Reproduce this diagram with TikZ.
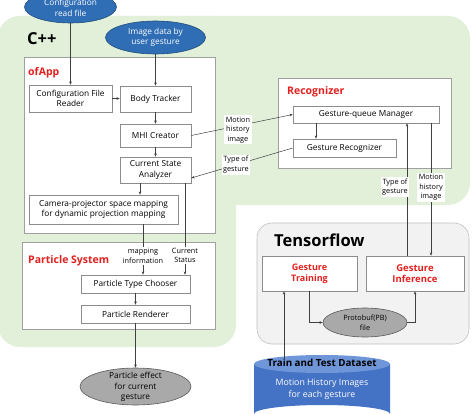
\documentclass[tikz,border=0pt]{standalone}
\usepackage{fontspec}
\setmainfont{Open Sans}
\usetikzlibrary{arrows.meta,shapes.geometric,calc}
\definecolor{bggreen}{HTML}{E2F0D9}
\definecolor{boxgray}{HTML}{8C8C8C}
\definecolor{grpgray}{HTML}{A0A0A0}
\definecolor{titlered}{HTML}{E3201E}
\definecolor{ellblue}{HTML}{2F6DB5}
\definecolor{ellblueedge}{HTML}{1F4E79}
\definecolor{ellgray}{HTML}{A9A9A9}
\definecolor{ellgrayedge}{HTML}{5A5A5A}
\definecolor{tffill}{HTML}{F2F2F2}
\definecolor{tfedge}{HTML}{BFBFBF}
\definecolor{cylblue}{HTML}{4472C4}
\definecolor{cyltop}{HTML}{6F96D8}
\definecolor{linegray}{HTML}{404040}
\begin{document}
\begin{tikzpicture}[x=1pt,y=-1pt,
  box/.style={draw=boxgray, fill=white, line width=0.6pt, inner sep=1pt, align=center,
    font=\fontsize{8.3}{10.5}\selectfont},
  group/.style={draw=grpgray, fill=white, line width=0.7pt, inner sep=0pt},
  redtitle/.style={text=titlered, font=\fontsize{10.5}{12}\selectfont\bfseries, inner sep=0pt},
  bigtitle/.style={text=black, font=\fontsize{16.5}{19}\selectfont\bfseries, inner sep=0pt},
  blueell/.style={ellipse, draw=ellblueedge, fill=ellblue, line width=0.6pt, inner sep=0pt},
  grayell/.style={ellipse, draw=ellgrayedge, fill=ellgray, line width=0.6pt, inner sep=0pt},
  elltext/.style={align=center, inner sep=0pt, font=\fontsize{8.3}{10.5}\selectfont},
  lbl/.style={fill=white, inner sep=1.5pt, align=center, text=black,
    font=\fontsize{7.3}{9.5}\selectfont},
  arr/.style={draw=linegray, line width=0.5pt, -{Stealth[length=3.2pt,width=2.6pt]}},
]
\useasboundingbox (0,0) rectangle (473,414);
\clip (0,0) rectangle (473,414);
% green background (C++)
\fill[bggreen, rounded corners=22pt] (-2,16) rectangle (470,205);
\fill[bggreen, rounded corners=22pt] (-2,16) rectangle (236,347);
% Tensorflow area
\node[draw=tfedge, fill=tffill, line width=0.6pt, rounded corners=15pt,
  minimum width=212pt, minimum height=121pt, inner sep=0pt] (tf) at (363,283.5) {};
\node[bigtitle, anchor=west] (tftitle) at (274,240) {Tensorflow};
% C++ title
\node[bigtitle, anchor=west] (cpp) at (27,39) {C++};
% group boxes
\node[group, minimum width=191pt, minimum height=176pt] (ofapp) at (119.5,145) {};
\node[redtitle, anchor=west] (ofapptitle) at (28,73) {ofApp};
\node[group, minimum width=193pt, minimum height=87pt] (ps) at (118.5,285.5) {};
\node[redtitle, anchor=west] (pstitle) at (28,261) {Particle System};
\node[group, minimum width=173pt, minimum height=90pt] (rec) at (364.5,123) {};
\node[redtitle, anchor=west] (rectitle) at (287,92) {Recognizer};
% ofApp boxes
\node[box, minimum width=83pt, minimum height=27pt] (cfr) at (70.5,98.5) {Configuration File\\Reader};
\node[box, minimum width=71pt, minimum height=26pt] (bt) at (155.5,99) {Body Tracker};
\node[box, minimum width=71pt, minimum height=23pt] (mhi) at (155.5,135.5) {MHI Creator};
\node[box, minimum width=71pt, minimum height=26pt] (csa) at (155.5,170) {Current State\\Analyzer};
\node[box, minimum width=149pt, minimum height=29pt] (cam) at (103.5,209.5) {Camera-projector space mapping\\for dynamic projection mapping};
% Particle system boxes
\node[box, minimum width=109pt, minimum height=18pt] (ptc) at (135.5,284) {Particle Type Chooser};
\node[box, minimum width=109pt, minimum height=18pt] (pr) at (135.5,314) {Particle Renderer};
% Recognizer boxes
\node[box, minimum width=146pt, minimum height=17pt] (gqm) at (366,114.5) {Gesture-queue Manager};
\node[box, minimum width=103pt, minimum height=18pt] (gr) at (344.5,148) {Gesture Recognizer};
% Tensorflow boxes
\node[box, minimum width=95pt, minimum height=35pt, text=titlered,
  font=\fontsize{9}{11}\selectfont\bfseries] (gt) at (309.5,273.5) {Gesture\\Training};
\node[box, minimum width=98pt, minimum height=35pt, text=titlered,
  font=\fontsize{9.5}{11.5}\selectfont\bfseries] (gi) at (415,273.5) {Gesture\\Inference};
% ellipses
\node[blueell, minimum width=92pt, minimum height=32pt] (cfgfile) at (70.5,7) {};
\node[elltext, text=white] (cfgfiletext) at (70.5,8) {Configuration\\read file};
\node[blueell, minimum width=100pt, minimum height=33pt] (imgdata) at (155.5,37.5) {};
\node[elltext, text=white] (imgdatatext) at (155.5,37.5) {Image data by\\user gesture};
\node[grayell, minimum width=111pt, minimum height=37pt] (pe) at (135.5,386.5) {};
\node[elltext] (petext) at (135.5,387) {Particle effect\\for current\\gesture};
\node[grayell, minimum width=84pt, minimum height=29pt] (pb) at (365,322.5) {};
\node[elltext, font=\fontsize{7.3}{10}\selectfont] (pbtext) at (365,322.5) {Protobuf(PB)\\file};
% dataset cylinder
\fill[cylblue] (254,364) -- (254,414) arc[start angle=180, end angle=360, x radius=68pt, y radius=-9pt] -- (390,364) -- cycle;
\fill[cyltop] (322,364) ellipse[x radius=68pt, y radius=9pt];
\node[inner sep=0pt, font=\fontsize{9.8}{12}\selectfont\bfseries] (dstitle) at (322,363) {Train and Test Dataset};
\node[elltext, text=white, font=\fontsize{8.8}{12}\selectfont] (dsbody) at (322,389) {Motion History Images\\for each gesture};
\coordinate (ds) at (284,360);
% connectors
\draw[arr] (cfgfile.south) -- (cfr.north);
\draw[arr] (imgdata.south) -- (bt.north);
\draw[arr] (cfr.east) -- (cfr.east -| bt.west);
\draw[arr] (bt.south) -- (mhi.north);
\draw[arr] (mhi.south) -- (csa.north);
\draw[arr] ([xshift=-15.5pt]csa.south) -- ([xshift=-15.5pt]csa.south |- cam.north);
\draw[arr] ([xshift=39.5pt]cam.south) -- node[lbl, pos=0.63] {mapping\\information} ([xshift=39.5pt]cam.south |- ptc.north);
\draw[arr] ([xshift=29.5pt]csa.south) -- node[lbl, pos=0.79] {Current\\Status} ([xshift=29.5pt]csa.south |- ptc.north);
\draw[arr] (ptc.south) -- (pr.north);
\draw[arr] (pr.south) -- (pe.north);
\draw[arr] (mhi.east) -- node[lbl, pos=0.46, yshift=-4pt] {Motion\\history\\image} (gqm.west);
\draw[arr] ([xshift=-28.5pt]gr.north |- gqm.south) -- ([xshift=-28.5pt]gr.north);
\draw[arr] (gr.west) -- node[lbl, pos=0.56] {Type of\\gesture} ([yshift=-8pt]csa.east);
\draw[arr] ([xshift=-8pt]gi.north) -- node[lbl, pos=0.52, xshift=-12pt] {Type of\\gesture} ([xshift=-8pt]gi.north |- gqm.south);
\draw[arr] ([xshift=65pt]gqm.south) -- node[lbl, pos=0.485] {Motion\\history\\image} ([xshift=65pt]gqm.south |- gi.north);
\draw[arr] ([xshift=-0.5pt]gt.south) |- (pb.west);
\draw[arr] (pb.east) -| (gi.south);
\draw[arr] (ds) -- (ds |- gt.south);
\end{tikzpicture}
\end{document}
